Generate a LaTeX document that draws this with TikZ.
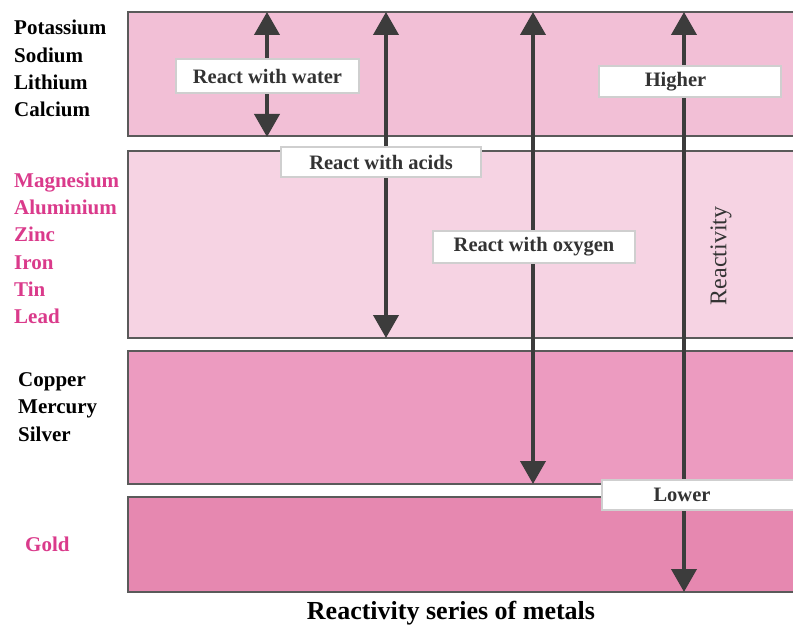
\documentclass[tikz,border=0pt]{standalone}
\usepackage{fontspec}
\setmainfont{Liberation Serif}
\usetikzlibrary{arrows.meta}
\definecolor{bandA}{HTML}{F2BFD6}
\definecolor{bandB}{HTML}{F6D3E3}
\definecolor{bandC}{HTML}{EC9BC0}
\definecolor{bandD}{HTML}{E688B0}
\definecolor{bandedge}{HTML}{5A5A5A}
\definecolor{arrowgray}{HTML}{3C3C3C}
\definecolor{metalpink}{HTML}{DA3A8B}
\definecolor{labeledge}{HTML}{CFCFCF}
\definecolor{labeltext}{HTML}{333333}
\tikzset{
  band/.style={draw=bandedge, line width=2bp},
  rdarrow/.style={draw=arrowgray, line width=4bp, {Triangle[length=23bp,width=25bp]}-{Triangle[length=23bp,width=25bp]}},
  tagbox/.style={draw=labeledge, fill=white, line width=1.2bp, inner sep=0pt,
     font=\bfseries\fontsize{20.5bp}{24bp}\selectfont, text=labeltext},
  metals/.style={anchor=north west, inner sep=0pt, align=left,
     font=\bfseries\fontsize{21bp}{27.3bp}\selectfont},
}
\begin{document}
\begin{tikzpicture}[x=1bp,y=-1bp]
\useasboundingbox (0,0) rectangle (793,626);
\clip (0,0) rectangle (793,626);
% bands
\draw[band, fill=bandA] (128,12) rectangle (800,136);
\draw[band, fill=bandB] (128,151) rectangle (800,338);
\draw[band, fill=bandC] (128,351) rectangle (800,484);
\draw[band, fill=bandD] (128,497) rectangle (800,592);
% arrow end points
\coordinate (wT) at (267,12);  \coordinate (wB) at (267,137);
\coordinate (aT) at (386,12);  \coordinate (aB) at (386,338);
\coordinate (oT) at (533,12);  \coordinate (oB) at (533,484);
\coordinate (rT) at (684,12);  \coordinate (rB) at (684,592);
\draw[rdarrow] (wT) -- (wB);
\draw[rdarrow] (aT) -- (aB);
\draw[rdarrow] (oT) -- (oB);
\draw[rdarrow] (rT) -- (rB);
% labels
\node[tagbox, minimum width=183bp, minimum height=34bp] (water) at (267.5,76) {React with water};
\node[tagbox, minimum width=200bp, minimum height=30bp] (acids) at (381,162) {React with acids};
\node[tagbox, minimum width=202bp, minimum height=32bp] (oxy) at (534,247) {React with oxygen};
\node[tagbox, minimum width=182bp, minimum height=31bp] (high) at (690,81.5) {\hspace*{-29bp}Higher};
\node[tagbox, minimum width=194bp, minimum height=30bp] (low) at (699,495) {\hspace*{-34bp}Lower};
\node[rotate=90, inner sep=0pt, font=\fontsize{24bp}{28bp}\selectfont, text=labeltext] (reac) at (721,256) {Reactivity};
% metals
\node[metals] (g1) at (14,20) {Potassium\\Sodium\\Lithium\\Calcium};
\node[metals, text=metalpink] (g2) at (14,172.5) {Magnesium\\Aluminium\\Zinc\\Iron\\Tin\\Lead};
\node[metals] (g3) at (18,372.5) {Copper\\Mercury\\Silver};
\node[metals, text=metalpink] (g4) at (25,536.5) {Gold};
% title
\node[anchor=base, inner sep=0pt, font=\bfseries\fontsize{26bp}{30bp}\selectfont] (title) at (451,619) {Reactivity series of metals};
\end{tikzpicture}
\end{document}
